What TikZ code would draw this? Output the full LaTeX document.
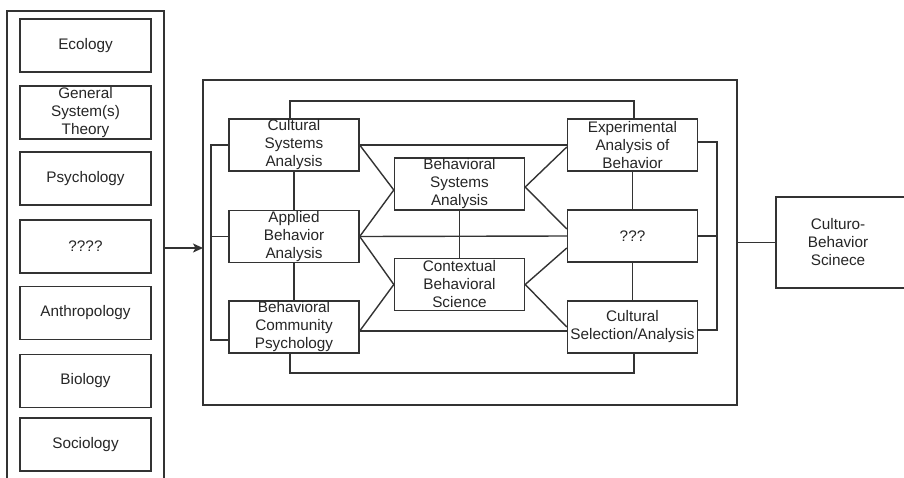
\documentclass[tikz,border=0pt]{standalone}
\usepackage{fontspec}
\setmainfont{Liberation Sans}
\usetikzlibrary{arrows.meta,calc}
\begin{document}
\begin{tikzpicture}[x=1pt,y=-1pt,
  every node/.style={font=\fontsize{15.3}{18}\selectfont, text=black!85},
  ln/.style={draw=black!80, line width=1.4pt},
  lbox/.style={ln, rectangle, minimum width=131pt, minimum height=53pt, inner sep=0pt, align=center},
  ibox/.style={ln, rectangle, minimum width=130pt, minimum height=52pt, inner sep=0pt, align=center},
  frame/.style={ln, rectangle, inner sep=0pt}]
\useasboundingbox (0,0) rectangle (904,477);
\fill[white] (0,0) rectangle (904,477);
\clip (0,0) rectangle (904,477);

% left column
\node[frame, minimum width=157pt, minimum height=490pt] (lframe) at (85.5,256) {};
\node[lbox] (eco) at (85.5,45.5) {Ecology};
\node[lbox] (gst) at (85.5,112.5) {General\\System(s)\\Theory};
\node[lbox] (psy) at (85.5,178.5) {Psychology};
\node[lbox] (qqqq) at (85.5,246.5) {????};
\node[lbox] (ant) at (85.5,313) {Anthropology};
\node[lbox] (bio) at (85.5,381) {Biology};
\node[lbox] (soc) at (85.5,444.5) {Sociology};

% middle frame
\node[frame, minimum width=534pt, minimum height=325pt] (mframe) at (470,242.5) {};
\coordinate (aend) at (203,248);
\draw[ln, -{Stealth[length=10pt,width=9pt,inset=2.5pt]}] (lframe.east |- aend) -- (aend);

% inner boxes
\node[ibox] (csa) at (294,145) {Cultural\\Systems\\Analysis};
\node[ibox] (aba) at (294,236.5) {Applied\\Behavior\\Analysis};
\node[ibox] (bcp) at (294,327) {Behavioral\\Community\\Psychology};
\node[ibox] (bsa) at (459.5,184) {Behavioral\\Systems\\Analysis};
\node[ibox] (cbs) at (459.5,284.5) {Contextual\\Behavioral\\Science};
\node[ibox] (eab) at (632.5,145) {Experimental\\Analysis of\\Behavior};
\node[ibox] (qqq) at (632.5,236) {???};
\node[ibox] (csel) at (632.5,327) {Cultural\\Selection/Analysis};

% right box
\node[frame, minimum width=140pt, minimum height=91pt] (cubox) at (846,242.5) {};
\node[align=center, inner sep=0pt] (cutext) at (838,242.5) {Culturo-\\Behavior\\Scinece};

% loops
\draw[ln] ([xshift=-4pt]csa.north) -- ([xshift=-4pt]csa.north |- 0,101) -| ([xshift=1.5pt]eab.north);
\draw[ln] ([xshift=-4pt]bcp.south) -- ([xshift=-4pt]bcp.south |- 0,373) -| ([xshift=1.5pt]csel.south);

% left bracket
\coordinate (lb1) at (211,145);
\coordinate (lb3) at (211,340);
\draw[ln] (csa.west) -- (lb1) -- (lb3) -- (bcp.west |- lb3);
\draw[ln] (aba.west) -- (aba.west -| lb1);

% verticals
\draw[ln] (csa.south) -- (aba.north);
\draw[ln] (aba.south) -- (bcp.north);
\draw[ln] (bsa.south) -- (cbs.north);
\draw[ln] (eab.south) -- (qqq.north);
\draw[ln] (qqq.south) -- (csel.north);

% horizontals
\draw[ln] (csa.east) -- (eab.west);
\draw[ln] (aba.east) -- (qqq.west);
\draw[ln] ([yshift=-4pt]bcp.east) -- ([yshift=-4pt]csel.west);

% diagonals
\draw[ln] (csa.east) -- ([yshift=-6pt]bsa.west) -- (aba.east);
\draw[ln] (aba.east) -- (cbs.west) -- ([yshift=-4pt]bcp.east);
\draw[ln] ([yshift=-2pt]eab.west) -- ([yshift=-3pt]bsa.east) -- ([yshift=7pt]qqq.west);
\draw[ln] ([yshift=-12pt]qqq.west) -- (cbs.east) -- (csel.west);

% right bracket
\coordinate (rb1) at (717,142);
\coordinate (rb3) at (717,330);
\draw[ln] (eab.east |- rb1) -- (rb1) -- (rb3) -- (csel.east |- rb3);
\draw[ln, line width=2pt] (qqq.east) -- (qqq.east -| rb1);

% to culturo
\draw[ln] (mframe.east) -- (cubox.west);
\end{tikzpicture}
\end{document}
